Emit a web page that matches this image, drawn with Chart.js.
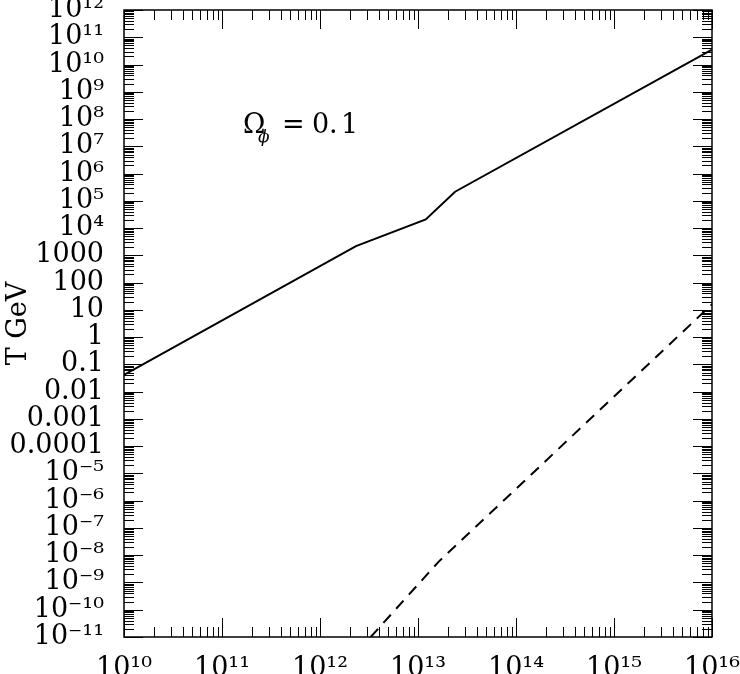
<!DOCTYPE html>
<html>
<head>
<meta charset="utf-8">
<script src="https://cdn.jsdelivr.net/npm/chart.js@4.4.0/dist/chart.umd.min.js"></script>
<style>
  html, body { margin: 0; padding: 0; background: #fff; }
  #wrap { width: 740px; height: 674px; }
</style>
</head>
<body>
<div id="wrap"><canvas id="tempChart" width="740" height="674"></canvas></div>
<script>
// valores (eixos log-log)
const solidMass = [1e10, 2.33e12, 1.2e13, 2.39e13, 1e16];
const solidTemp = [0.041, 2190, 20900, 216000, 3.5e10];
const dashedMass = [3.29e12, 1.61e13, 1e16];
const dashedTemp = [1e-11, 5.6e-9, 16];

const xTickExps = [10, 11, 12, 13, 14, 15, 16];
const xTickLabels = ['10¹⁰', '10¹¹', '10¹²', '10¹³', '10¹⁴', '10¹⁵', '10¹⁶'];
const yTickExps = [-11, -10, -9, -8, -7, -6, -5, -4, -3, -2, -1, 0, 1, 2, 3, 4, 5, 6, 7, 8, 9, 10, 11, 12];
const yTickLabels = ['10⁻¹¹', '10⁻¹⁰', '10⁻⁹', '10⁻⁸', '10⁻⁷', '10⁻⁶', '10⁻⁵', '0.0001', '0.001', '0.01',
  '0.1', '1', '10', '100', '1000', '10⁴', '10⁵', '10⁶', '10⁷', '10⁸', '10⁹', '10¹⁰', '10¹¹', '10¹²'];

const yTitle = 'T GeV';
const notePos = { x: 1.64e11, y: 3.1e7 };

const serif = 'DejaVu Serif';

// ====== ticks internos, moldura e anotação ======
const framePlugin = {
  id: 'frame',
  afterDatasetsDraw(chart) {
    const { ctx, chartArea: a, scales: { x, y } } = chart;
    const majorLen = 19, minorLen = 10;
    ctx.save();
    ctx.strokeStyle = '#000';
    ctx.lineWidth = 1;
    ctx.beginPath();
    xTickExps.forEach((e, i) => {
      const px = Math.round(x.getPixelForValue(Math.pow(10, e))) + 0.5;
      ctx.moveTo(px, a.bottom); ctx.lineTo(px, a.bottom - majorLen);
      ctx.moveTo(px, a.top); ctx.lineTo(px, a.top + majorLen);
      if (i < xTickExps.length - 1) {
        for (let k = 2; k <= 9; k++) {
          const mx = Math.round(x.getPixelForValue(k * Math.pow(10, e))) + 0.5;
          ctx.moveTo(mx, a.bottom); ctx.lineTo(mx, a.bottom - minorLen);
          ctx.moveTo(mx, a.top); ctx.lineTo(mx, a.top + minorLen);
        }
      }
    });
    yTickExps.forEach((e, i) => {
      const py = Math.round(y.getPixelForValue(Math.pow(10, e))) + 0.5;
      ctx.moveTo(a.left, py); ctx.lineTo(a.left + majorLen, py);
      ctx.moveTo(a.right, py); ctx.lineTo(a.right - majorLen, py);
      if (i < yTickExps.length - 1) {
        for (let k = 2; k <= 9; k++) {
          const my = Math.round(y.getPixelForValue(k * Math.pow(10, e))) + 0.5;
          ctx.moveTo(a.left, my); ctx.lineTo(a.left + minorLen, my);
          ctx.moveTo(a.right, my); ctx.lineTo(a.right - minorLen, my);
        }
      }
    });
    ctx.stroke();

    ctx.lineWidth = 1.5;
    ctx.strokeRect(a.left, a.top, a.right - a.left, a.bottom - a.top);

    // Ω_φ = 0.1
    const nx = x.getPixelForValue(notePos.x);
    const ny = y.getPixelForValue(notePos.y);
    ctx.fillStyle = '#000';
    ctx.textBaseline = 'alphabetic';
    ctx.textAlign = 'left';
    ctx.font = '27px "' + serif + '"';
    ctx.fillText('Ω', nx, ny);
    ctx.fillText('=', nx + 39, ny);
    ctx.fillText('0', nx + 69, ny);
    ctx.fillText('.', nx + 86, ny);
    ctx.fillText('1', nx + 98, ny);
    ctx.font = 'italic 17px "' + serif + '"';
    ctx.fillText('ϕ', nx + 15, ny + 9);
    ctx.restore();
  }
};

new Chart(document.getElementById('tempChart'), {
  type: 'line',
  data: {
    datasets: [
      {
        label: 'solid',
        data: solidMass.map((m, i) => ({ x: m, y: solidTemp[i] })),
        borderColor: '#000',
        borderWidth: 2,
        pointRadius: 0,
        tension: 0,
        fill: false
      },
      {
        label: 'dashed',
        data: dashedMass.map((m, i) => ({ x: m, y: dashedTemp[i] })),
        borderColor: '#000',
        borderWidth: 2,
        borderDash: [11, 8],
        pointRadius: 0,
        tension: 0,
        fill: false
      }
    ]
  },
  options: {
    responsive: false,
    animation: false,
    layout: { padding: { top: 10, right: 28, left: 0, bottom: 0 } },
    plugins: { legend: { display: false }, tooltip: { enabled: false } },
    scales: {
      x: {
        type: 'logarithmic',
        position: 'bottom',
        min: 1e10,
        max: 1e16,
        grid: { display: false, drawTicks: false },
        border: { display: false },
        afterBuildTicks: s => { s.ticks = xTickExps.map(e => ({ value: Math.pow(10, e) })); },
        ticks: {
          autoSkip: false, maxRotation: 0, minRotation: 0, padding: 16, color: '#000',
          font: { family: serif, size: 27 },
          callback: (v, i) => xTickLabels[i]
        },
        afterFit: s => { s.height = 37; s.paddingLeft = 0; s.paddingRight = 0; }
      },
      y: {
        type: 'logarithmic',
        position: 'left',
        min: 1e-11,
        max: 1e12,
        grid: { display: false, drawTicks: false },
        border: { display: false },
        afterBuildTicks: s => { s.ticks = yTickExps.map(e => ({ value: Math.pow(10, e) })); },
        ticks: {
          autoSkip: false, padding: 20, color: '#000',
          font: { family: serif, size: 27 },
          callback: (v, i) => yTickLabels[i]
        },
        title: {
          display: true, text: yTitle, color: '#000', padding: { top: 3, bottom: 0 },
          font: { family: serif, size: 27 }
        },
        afterFit: s => { s.width = 124; s.paddingTop = 0; s.paddingBottom = 0; }
      }
    }
  },
  plugins: [framePlugin]
});
</script>
</body>
</html>
